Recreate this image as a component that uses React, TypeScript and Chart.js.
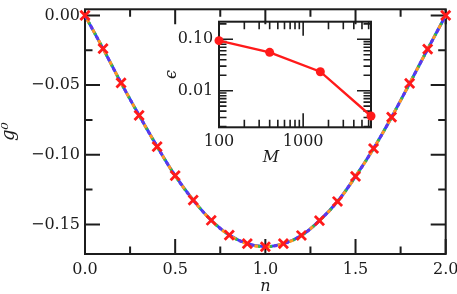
import React, { useEffect, useRef } from 'react';
import { Chart, registerables } from 'chart.js';

Chart.register(...registerables);

// ---- main plot data ----
const nValues = [0, 0.1, 0.2, 0.3, 0.4, 0.5, 0.6, 0.7, 0.8, 0.9, 1.0, 1.1, 1.2, 1.3, 1.4, 1.5, 1.6, 1.7, 1.8, 1.9, 2.0];
const g0Values = [0, -0.0238, -0.0484, -0.0717, -0.0941, -0.1150, -0.1325, -0.1470, -0.1576, -0.1638, -0.1660,
  -0.1638, -0.1579, -0.1472, -0.1335, -0.1155, -0.0955, -0.0730, -0.0488, -0.0242, 0];
const nMajorTicks = [0, 0.5, 1.0, 1.5, 2.0];
const nMinorTicks = [0.25, 0.75, 1.25, 1.75];
const gMajorTicks = [-0.15, -0.10, -0.05, 0];
const gMinorTicks = [-0.125, -0.075, -0.025];

// ---- inset data ----
const mValues = [100, 400, 1600, 6400];
const epsValues = [0.094, 0.0558, 0.0234, 0.00322];
const mMajorTicks = [100, 1000];
const mMinorTicks = [200, 300, 400, 500, 600, 700, 800, 900, 2000, 3000, 4000, 5000, 6000];
const epsMajorTicks = [0.01, 0.1];
const epsMinorTicks = [0.002, 0.003, 0.004, 0.005, 0.006, 0.007, 0.008, 0.009,
  0.02, 0.03, 0.04, 0.05, 0.06, 0.07, 0.08, 0.09, 0.2];

const FONT = 'DejaVu Serif';
const INK = '#1c1c1c';

const makeTicks = (major: number[], minor: number[]) =>
  [...major.map((v) => ({ value: v, big: true })), ...minor.map((v) => ({ value: v, big: false }))]
    .sort((a, b) => a.value - b.value);

const isMajor = (v: number, major: number[]) => major.some((m) => Math.abs(m - v) < 1e-9 * Math.max(1, Math.abs(m)) + 1e-12);

const frameTicks = {
  id: 'frameTicks',
  beforeDatasetsDraw(chart: any, _args: any, opts: any) {
    const { ctx, chartArea } = chart;
    const { left, right, top, bottom } = chartArea;
    const xs = chart.scales.x;
    const ys = chart.scales.y;
    ctx.save();
    ctx.strokeStyle = INK;
    ctx.lineWidth = opts.tickWidth;
    ctx.lineCap = 'butt';
    ctx.beginPath();
    xs.ticks.forEach((t: any) => {
      const p = xs.getPixelForValue(t.value);
      const len = t.big ? opts.major : opts.minor;
      ctx.moveTo(p, bottom); ctx.lineTo(p, bottom - len);
      ctx.moveTo(p, top); ctx.lineTo(p, top + len);
    });
    ys.ticks.forEach((t: any) => {
      const p = ys.getPixelForValue(t.value);
      const len = t.big ? opts.major : opts.minor;
      ctx.moveTo(left, p); ctx.lineTo(left + len, p);
      ctx.moveTo(right, p); ctx.lineTo(right - len, p);
    });
    ctx.stroke();
    ctx.lineWidth = opts.frameWidth;
    ctx.strokeRect(left, top, right - left, bottom - top);
    ctx.restore();
  },
  afterDraw(chart: any, _args: any, opts: any) {
    if (!opts.extraTitle) return;
    const { ctx } = chart;
    const t = opts.extraTitle;
    ctx.save();
    ctx.fillStyle = INK;
    ctx.font = t.font;
    ctx.textAlign = 'center';
    ctx.textBaseline = 'middle';
    ctx.fillText(t.text, t.x, t.y);
    ctx.restore();
  },
};

function MainChart() {
  const ref = useRef<HTMLCanvasElement>(null);
  useEffect(() => {
    if (!ref.current) return;
    const pts = nValues.map((n, i) => ({ x: n, y: g0Values[i] }));
    const line = (color: string, dash: number[], offset: number, order: number) => ({
      label: color, data: pts, borderColor: color, borderWidth: 3, borderDash: dash, borderDashOffset: offset,
      pointRadius: 0, tension: 0.4, order, clip: false,
    });
    const chart = new Chart(ref.current, {
      type: 'line',
      data: {
        datasets: [
          { label: 'markers', data: pts, showLine: false, pointStyle: 'crossRot', pointRadius: 6.5,
            pointBorderWidth: 2.8, pointBorderColor: '#ff1a1a', pointBackgroundColor: '#ff1a1a', order: 0, clip: false },
          line('#3cbf3c', [2, 10], -8, 1),
          line('#ff9a1f', [4, 8], -4, 2),
          line('#6a36e0', [3, 9], 0, 3),
          line('#2f44ff', [], 0, 4),
        ],
      },
      options: {
        responsive: false,
        animation: false,
        events: [],
        layout: { padding: { top: 1, right: 11.3, left: 0, bottom: 0 } },
        plugins: {
          legend: { display: false },
          tooltip: { enabled: false },
          frameTicks: { major: 15, minor: 7.5, tickWidth: 2, frameWidth: 2 },
        } as any,
        scales: {
          x: {
            type: 'linear', min: 0, max: 2,
            grid: { display: false, drawTicks: false },
            border: { display: false },
            afterBuildTicks: (s: any) => { s.ticks = makeTicks(nMajorTicks, nMinorTicks); },
            afterFit: (s: any) => { s.height = 40; s.paddingLeft = 0; s.paddingRight = 0; },
            ticks: {
              autoSkip: false, maxRotation: 0, padding: 6, color: INK,
              font: { family: FONT, size: 16 },
              callback: (v: any) => (isMajor(Number(v), nMajorTicks) ? Number(v).toFixed(1) : ''),
            },
            title: { display: true, text: 'n', color: INK, font: { family: FONT, size: 16, style: 'italic' }, padding: { top: 0, bottom: -2 } },
          },
          y: {
            type: 'linear', min: -0.1712, max: 0.0044,
            grid: { display: false, drawTicks: false },
            border: { display: false },
            afterBuildTicks: (s: any) => { s.ticks = makeTicks(gMajorTicks, gMinorTicks); },
            afterFit: (s: any) => { s.width = 85; s.paddingTop = 0; s.paddingBottom = 0; },
            ticks: {
              autoSkip: false, padding: 5, color: INK,
              font: { family: FONT, size: 16 },
              callback: (v: any) => {
                const x = Number(v);
                if (!isMajor(x, gMajorTicks)) return '';
                const s = Math.abs(x).toFixed(2);
                return x < -1e-9 ? '\u2212' + s : s;
              },
            },
            title: { display: true, text: 'g\u2070', color: INK, font: { family: FONT, size: 18, style: 'italic' }, padding: { top: -1, bottom: 0 } },
          },
        },
      },
      plugins: [frameTicks],
    });
    return () => chart.destroy();
  }, []);
  return <canvas ref={ref} width={457} height={294} style={{ position: 'absolute', left: 0, top: 0 }} />;
}

function InsetChart() {
  const ref = useRef<HTMLCanvasElement>(null);
  useEffect(() => {
    if (!ref.current) return;
    const pts = mValues.map((m, i) => ({ x: m, y: epsValues[i] }));
    const chart = new Chart(ref.current, {
      type: 'line',
      data: {
        datasets: [
          { label: 'eps', data: pts, borderColor: '#ff1a1a', borderWidth: 2.4, pointRadius: 4.5,
            pointBackgroundColor: '#ff1a1a', pointBorderColor: '#ff1a1a', pointBorderWidth: 0, tension: 0, clip: false },
        ],
      },
      options: {
        responsive: false,
        animation: false,
        events: [],
        layout: { padding: { top: 11.7, right: 19, left: 0, bottom: 0 } },
        plugins: {
          legend: { display: false },
          tooltip: { enabled: false },
          frameTicks: {
            major: 14, minor: 7.5, tickWidth: 1.6, frameWidth: 2,
            extraTitle: { text: 'M', x: 121, y: 147.5, font: `italic 16px "${FONT}"` },
          },
        } as any,
        scales: {
          x: {
            type: 'logarithmic', min: 100, max: 6400,
            grid: { display: false, drawTicks: false },
            border: { display: false },
            afterBuildTicks: (s: any) => { s.ticks = makeTicks(mMajorTicks, mMinorTicks); },
            afterFit: (s: any) => { s.height = 42.7; s.paddingLeft = 0; s.paddingRight = 0; },
            ticks: {
              autoSkip: false, maxRotation: 0, padding: 5.4, color: INK,
              font: { family: FONT, size: 16 },
              callback: (v: any) => (isMajor(Number(v), mMajorTicks) ? String(Math.round(Number(v))) : ''),
            },
          },
          y: {
            type: 'logarithmic', min: 0.00194, max: 0.22,
            grid: { display: false, drawTicks: false },
            border: { display: false },
            afterBuildTicks: (s: any) => { s.ticks = makeTicks(epsMajorTicks, epsMinorTicks); },
            afterFit: (s: any) => { s.width = 69; s.paddingTop = 0; s.paddingBottom = 0; },
            ticks: {
              autoSkip: false, padding: 5.7, color: INK,
              font: { family: FONT, size: 16 },
              callback: (v: any) => (isMajor(Number(v), epsMajorTicks) ? Number(v).toFixed(2) : ''),
            },
            title: { display: true, text: '\u03f5', color: INK, font: { family: FONT, size: 16, style: 'italic' }, padding: { top: 12, bottom: 0 } },
          },
        },
      },
      plugins: [frameTicks],
    });
    return () => chart.destroy();
  }, []);
  return <canvas ref={ref} width={240} height={160} style={{ position: 'absolute', left: 150, top: 10 }} />;
}

export default function App() {
  return (
    <div style={{ position: 'absolute', left: 0, top: 0, width: 457, height: 294, background: '#ffffff' }}>
      <MainChart />
      <InsetChart />
    </div>
  );
}
